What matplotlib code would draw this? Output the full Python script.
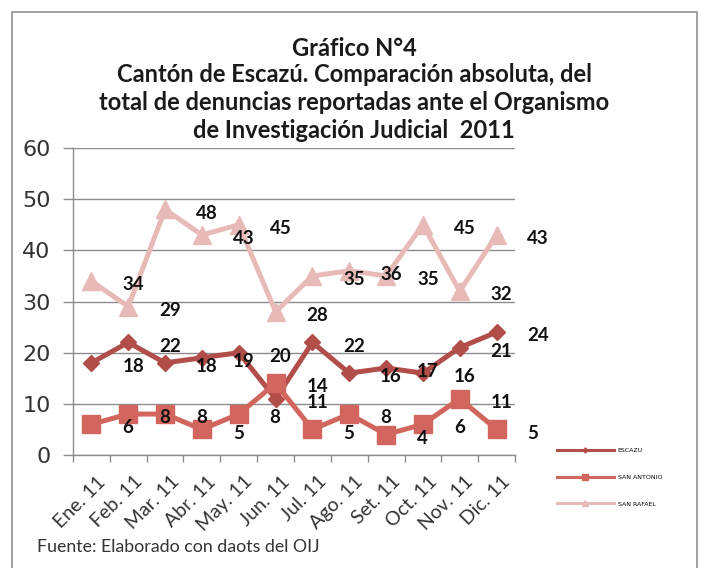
import matplotlib
matplotlib.use("Agg")
import matplotlib.pyplot as plt
import matplotlib.transforms as mtransforms
from matplotlib.patches import Rectangle

# ---- data ----
months = ["Ene. 11", "Feb. 11", "Mar. 11", "Abr. 11", "May. 11", "Jun. 11",
          "Jul. 11", "Ago. 11", "Set. 11", "Oct. 11", "Nov. 11", "Dic. 11"]
escazu = [18, 22, 18, 19, 20, 11, 22, 16, 17, 16, 21, 24]
san_antonio = [6, 8, 8, 5, 8, 14, 5, 8, 4, 6, 11, 5]
san_rafael = [34, 29, 48, 43, 45, 28, 35, 36, 35, 45, 32, 43]
series_names = ["ESCAZU", "SAN ANTONIO", "SAN RAFAEL"]
yticks = [0, 10, 20, 30, 40, 50, 60]

title_lines = ["Gráfico N°4",
               "Cantón de Escazú. Comparación absoluta, del",
               "total de denuncias reportadas ante el Organismo",
               "de Investigación Judicial  2011"]
source = "Fuente: Elaborado con daots del OIJ"

W, H = 701, 568
fig = plt.figure(figsize=(W / 100, H / 100), dpi=100)
fig.patch.set_facecolor("white")

# outer border
fig.patches.append(Rectangle((12 / W, -0.05), (697 - 12) / W, 1.05 - 12 / H,
                             transform=fig.transFigure, fill=False,
                             edgecolor="#9a9a9a", linewidth=1.3))

ax = fig.add_axes([73 / W, 1 - 455 / H, (515 - 73) / W, (455 - 148) / H])
x = list(range(len(months)))

c_esc = "#B14E49"
c_ant = "#D2655E"
c_raf = "#E7BAB7"

l1, = ax.plot(x, escazu, color=c_esc, lw=3.6, marker="D", ms=8.5, zorder=3,
              label=series_names[0])
l2, = ax.plot(x, san_antonio, color=c_ant, lw=3.6, marker="s", ms=13.5, zorder=4,
              label=series_names[1])
l3, = ax.plot(x, san_rafael, color=c_raf, lw=3.6, marker="^", ms=12.5, zorder=2,
              label=series_names[2])

# data labels (shifted one category to the right, as in the original)
for vals in (escazu, san_antonio, san_rafael):
    for i, v in enumerate(vals):
        ax.annotate(str(v), xy=(i + 1, v), xytext=(-4.3, -2.6),
                    textcoords="offset points", ha="left", va="center",
                    fontsize=13.5, fontweight="bold", family="Lato",
                    color="#111111", annotation_clip=False, zorder=6)

ax.set_xlim(-0.5, len(months) - 0.5)
ax.set_ylim(0, 60)
ax.set_yticks(yticks)
ax.set_yticklabels([str(t) for t in yticks], fontsize=16, color="#333333",
                   family="DejaVu Sans")
ax.tick_params(axis="y", length=7, width=1, color="#8c8c8c", pad=9)
ax.grid(axis="y", color="#8c8c8c", lw=1)
ax.set_axisbelow(True)

ax.set_xticks(x)
ax.set_xticklabels(months, rotation=45, ha="right", va="top",
                   rotation_mode="anchor", fontsize=14, color="#333333",
                   family="Lato")
ax.tick_params(axis="x", which="major", length=0, pad=13)
ax.set_xticks([i - 0.5 for i in range(len(months) + 1)], minor=True)
ax.tick_params(axis="x", which="minor", length=5, width=1, color="#8c8c8c")
offset = mtransforms.ScaledTranslation(5 / 100, 0, fig.dpi_scale_trans)
for lab in ax.get_xticklabels():
    lab.set_transform(lab.get_transform() + offset)

for s in ("top", "right"):
    ax.spines[s].set_visible(False)
for s in ("left", "bottom"):
    ax.spines[s].set_color("#8c8c8c")
    ax.spines[s].set_linewidth(1)

# title
ys = [48, 75, 103, 131]
for t, yy in zip(title_lines, ys):
    fig.text(354 / W, 1 - yy / H, t, ha="center", va="center", fontsize=17,
             fontweight="bold", family="Lato", color="#1a1a1a")

fig.text(37 / W, 1 - 547 / H, source, ha="left", va="center", fontsize=12.8,
         family="Lato", color="#333333")

leg = fig.legend(handles=[l1, l2, l3], labels=series_names,
                 loc="upper left", bbox_to_anchor=(557 / W, 1 - 448 / H),
                 frameon=False, fontsize=4.5, markerscale=0.3,
                 handlelength=9.1, handletextpad=0.6, labelspacing=3.4,
                 borderpad=0, borderaxespad=0)
for h in leg.get_lines():
    h.set_linewidth(2.2)

fig.savefig("out.png", dpi=100)
